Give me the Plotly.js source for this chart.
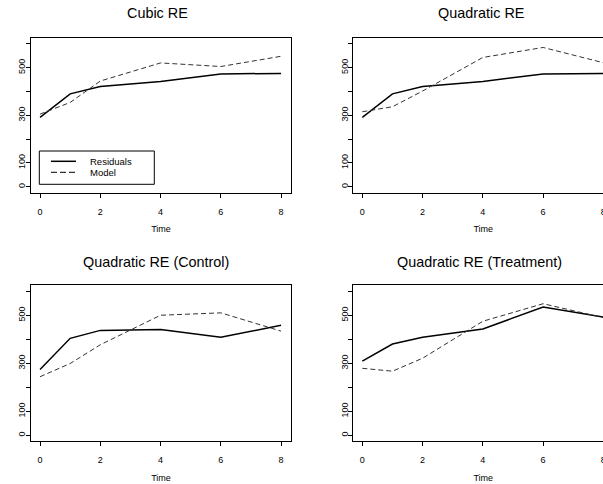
<!DOCTYPE html>
<html>
<head>
<meta charset="utf-8">
<script src="https://cdn.plot.ly/plotly-3.0.1.min.js"></script>
<style>
html, body { margin: 0; padding: 0; overflow: hidden; background: #fff; }
#chart { width: 640px; height: 484px; }
</style>
</head>
<body>
<div id="chart"></div>
<script>
// ---- data ----
var time = [0, 1, 2, 4, 6, 8];
var cubicResid = [291, 390, 421, 442, 474, 476];
var cubicModel = [305, 354, 444, 520, 505, 548];
var quadResid  = [291, 390, 421, 442, 474, 476];
var quadModel  = [315, 336, 402, 543, 585, 521];
var ctrlResid  = [274, 404, 437, 441, 408, 458];
var ctrlModel  = [244, 299, 377, 500, 510, 434];
var trtResid   = [309, 380, 408, 443, 534, 492];
var trtModel   = [279, 267, 321, 475, 548, 490];
var panelTitles = ['Cubic RE', 'Quadratic RE', 'Quadratic RE (Control)', 'Quadratic RE (Treatment)'];
var xTickVals = [0, 2, 4, 6, 8];
var yTickVals = [0, 100, 200, 300, 400, 500, 600];
var yTickText = ['0', '100', '', '300', '', '500', ''];
var seriesNames = ['Residuals', 'Model'];

var W = 640, H = 484;
var FONT = 'Liberation Sans, Arial, Helvetica, sans-serif';
var RESID_LINE = {color: '#000', width: 1.5, dash: 'solid'};
var MODEL_LINE = {color: '#333', width: 1, dash: '5px,3px'};

var panels = [
  {resid: cubicResid, model: cubicModel, xd: [31, 291], yd: [37.7, 192.7], tx: 157.5, ty: 13.3},
  {resid: quadResid,  model: quadModel,  xd: [353.3, 613.3], yd: [37.7, 192.7], tx: 480.5, ty: 13.3},
  {resid: ctrlResid,  model: ctrlModel,  xd: [31, 291], yd: [285, 441.3], tx: 156, ty: 262},
  {resid: trtResid,   model: trtModel,   xd: [353.3, 613.3], yd: [285, 441.3], tx: 479, ty: 262}
];

function px(x) { return x / W; }
function py(y) { return 1 - y / H; }

var data = [];
var layout = {
  width: W, height: H,
  margin: {l: 0, r: 0, t: 0, b: 0},
  paper_bgcolor: '#fff', plot_bgcolor: '#fff',
  font: {family: FONT, color: '#000', size: 9},
  showlegend: false,
  annotations: [],
  shapes: []
};

panels.forEach(function (p, i) {
  var n = i + 1;
  var xa = 'x' + (n === 1 ? '' : n), ya = 'y' + (n === 1 ? '' : n);
  data.push({
    x: time, y: p.resid, xaxis: xa, yaxis: ya, type: 'scatter', mode: 'lines',
    name: seriesNames[0], line: RESID_LINE
  });
  data.push({
    x: time, y: p.model, xaxis: xa, yaxis: ya, type: 'scatter', mode: 'lines',
    name: seriesNames[1], line: MODEL_LINE
  });
  var xkey = 'xaxis' + (n === 1 ? '' : n), ykey = 'yaxis' + (n === 1 ? '' : n);
  layout[xkey] = {
    domain: [px(p.xd[0]), px(p.xd[1])],
    anchor: ya, range: [-0.3, 8.33], fixedrange: true,
    tickvals: xTickVals, ticks: 'outside', ticklen: 4, tickwidth: 1, tickcolor: '#000',
    showline: true, mirror: true, linecolor: '#000', linewidth: 1,
    showgrid: false, zeroline: false,
    tickfont: {family: FONT, size: 9, color: '#000'},
    ticklabelstandoff: 6,
    title: {text: 'Time', font: {family: FONT, size: 9, color: '#000'}, standoff: 10}
  };
  layout[ykey] = {
    domain: [py(p.yd[1]), py(p.yd[0])],
    anchor: xa, range: [-25, 626], fixedrange: true,
    tickvals: yTickVals, ticktext: yTickText, tickangle: -90,
    ticks: 'outside', ticklen: 4, tickwidth: 1, tickcolor: '#000',
    showline: true, mirror: true, linecolor: '#000', linewidth: 1,
    showgrid: false, zeroline: false,
    ticklabelstandoff: -3,
    tickfont: {family: FONT, size: 9, color: '#000'}
  };
  layout.annotations.push({
    text: panelTitles[i], xref: 'paper', yref: 'paper',
    x: px(p.tx), y: py(p.ty), xanchor: 'center', yanchor: 'middle',
    showarrow: false, font: {family: FONT, size: 14.4, color: '#000'}
  });
});

// legend box (first panel)
var leg = {x0: 39.3, x1: 154.3, y0: 151, y1: 184.3, lx0: 51, lx1: 76, tx: 87.7, rows: [161.3, 172.3]};
layout.shapes.push({type: 'rect', xref: 'paper', yref: 'paper',
  x0: px(leg.x0), x1: px(leg.x1), y0: py(leg.y1), y1: py(leg.y0),
  line: {color: '#000', width: 1}, fillcolor: '#fff', layer: 'above'});
[RESID_LINE, MODEL_LINE].forEach(function (ln, k) {
  layout.shapes.push({type: 'line', xref: 'paper', yref: 'paper',
    x0: px(leg.lx0), x1: px(leg.lx1), y0: py(leg.rows[k]), y1: py(leg.rows[k]),
    line: {color: '#000', width: ln.width, dash: ln.dash === 'solid' ? 'solid' : '6px,3px'}, layer: 'above'});
  layout.annotations.push({text: seriesNames[k], xref: 'paper', yref: 'paper',
    x: px(leg.tx), y: py(leg.rows[k]), xanchor: 'left', yanchor: 'middle',
    showarrow: false, font: {family: FONT, size: 9.5, color: '#000'}});
});

Plotly.newPlot('chart', data, layout, {staticPlot: true, displayModeBar: false});
</script>
</body>
</html>
